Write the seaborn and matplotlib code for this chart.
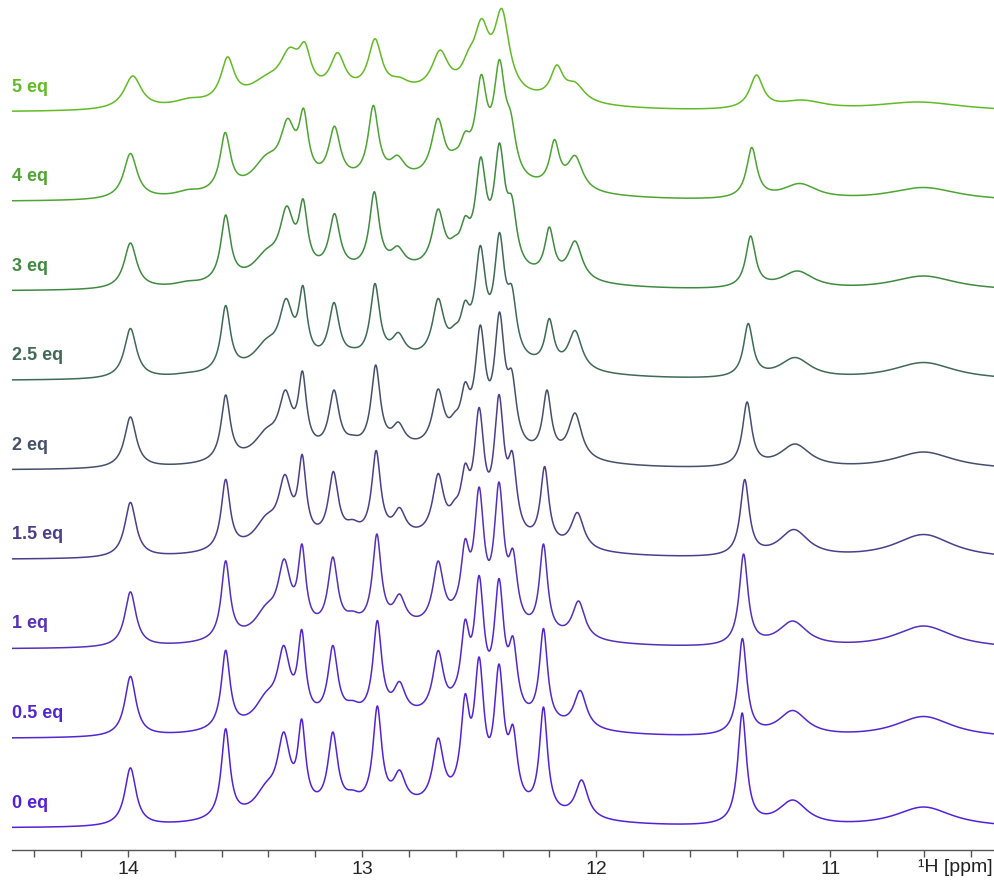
import numpy as np
import pandas as pd
import seaborn as sns
import matplotlib.pyplot as plt
from matplotlib.ticker import MultipleLocator, FixedLocator
from matplotlib.transforms import blended_transform_factory

# Titration series, bottom to top
labels = ["0 eq", "0.5 eq", "1 eq", "1.5 eq", "2 eq", "2.5 eq", "3 eq", "4 eq", "5 eq"]
colors = ["#5322d8", "#5327cf", "#5430bb", "#4a3f8c", "#45506a",
          "#3e6a56", "#3f8a40", "#4ea531", "#62bb25"]

# Resonance positions (ppm) for each spectrum, same peak order in every row
ppm_0 = [13.99, 13.75, 13.583, 13.41, 13.335, 13.258, 13.125, 13.04, 12.935, 12.84, 12.675,
         12.605, 12.56, 12.50, 12.415, 12.355, 12.225, 12.062, 11.376, 11.16, 10.60]
ppm_05 = [13.99, 13.75, 13.583, 13.41, 13.335, 13.258, 13.125, 13.04, 12.935, 12.84, 12.675,
          12.605, 12.56, 12.50, 12.415, 12.355, 12.225, 12.068, 11.375, 11.16, 10.60]
ppm_1 = [13.99, 13.75, 13.583, 13.41, 13.333, 13.257, 13.125, 13.04, 12.937, 12.84, 12.675,
         12.605, 12.56, 12.50, 12.415, 12.355, 12.225, 12.075, 11.370, 11.16, 10.60]
ppm_15 = [13.99, 13.75, 13.583, 13.41, 13.33, 13.256, 13.123, 13.04, 12.94, 12.84, 12.675,
          12.605, 12.56, 12.50, 12.415, 12.358, 12.220, 12.080, 11.365, 11.155, 10.60]
ppm_2 = [13.99, 13.75, 13.583, 13.41, 13.328, 13.255, 13.12, 13.04, 12.942, 12.845, 12.675,
         12.605, 12.56, 12.495, 12.413, 12.36, 12.210, 12.090, 11.355, 11.15, 10.60]
ppm_25 = [13.99, 13.75, 13.583, 13.41, 13.325, 13.253, 13.12, 13.04, 12.945, 12.845, 12.675,
          12.605, 12.56, 12.495, 12.413, 12.36, 12.200, 12.090, 11.350, 11.15, 10.60]
ppm_3 = [13.99, 13.75, 13.583, 13.41, 13.322, 13.252, 13.118, 13.04, 12.948, 12.848, 12.675,
         12.605, 12.56, 12.493, 12.413, 12.36, 12.200, 12.090, 11.340, 11.14, 10.60]
ppm_4 = [13.99, 13.745, 13.585, 13.41, 13.318, 13.25, 13.118, 13.04, 12.952, 12.849, 12.676,
         12.605, 12.56, 12.491, 12.413, 12.365, 12.178, 12.090, 11.335, 11.13, 10.60]
ppm_5 = [13.98, 13.74, 13.575, 13.41, 13.31, 13.245, 13.105, 13.04, 12.945, 12.84, 12.667,
         12.605, 12.545, 12.49, 12.403, 12.37, 12.168, 12.090, 11.315, 11.12, 10.62]

# Observed peak heights above the baseline of each spectrum
h_0 = [60, 4, 99, 46, 96, 109, 96, 38, 122, 58, 90, 56, 134, 171, 164, 103, 121, 48, 115, 28, 21]
h_05 = [62, 4, 88, 47, 93, 109, 93, 38, 118, 57, 88, 55, 119, 163, 160, 102, 110, 48, 100, 28, 22]
h_1 = [57, 4, 88, 45, 90, 105, 92, 38, 115, 55, 88, 52, 110, 162, 167, 100, 105, 48, 95, 28, 23]
h_15 = [57, 5, 80, 45, 85, 105, 88, 40, 109, 52, 86, 60, 96, 152, 165, 108, 93, 47, 80, 30, 25]
h_2 = [53, 6, 75, 42, 80, 99, 80, 35, 105, 48, 81, 58, 88, 145, 158, 100, 80, 57, 68, 26, 18]
h_25 = [52, 8, 75, 42, 82, 95, 78, 33, 97, 48, 82, 56, 80, 135, 148, 95, 62, 50, 57, 23, 18]
h_3 = [48, 10, 76, 42, 85, 92, 77, 30, 99, 45, 82, 55, 75, 134, 148, 95, 64, 50, 55, 20, 15]
h_4 = [48, 12, 69, 47, 83, 93, 74, 28, 95, 46, 83, 52, 70, 127, 142, 90, 62, 46, 54, 18, 14]
h_5 = [36, 14, 55, 37, 64, 69, 54, 22, 70, 34, 61, 40, 62, 93, 103, 65, 47, 30, 37, 12, 10]

# Line widths (FWHM, ppm) of each resonance
fwhm = [0.058, 0.10, 0.045, 0.12, 0.065, 0.04, 0.05, 0.07, 0.045, 0.06, 0.055,
        0.05, 0.045, 0.05, 0.05, 0.045, 0.042, 0.065, 0.045, 0.15, 0.30]
broadening = [1.0, 1.0, 1.0, 1.02, 1.05, 1.08, 1.12, 1.2, 1.55]
hump = [18, 18, 18, 18, 18, 18, 18, 18, 16]   # broad envelope under the imino region

positions = [ppm_0, ppm_05, ppm_1, ppm_15, ppm_2, ppm_25, ppm_3, ppm_4, ppm_5]
heights = [h_0, h_05, h_1, h_15, h_2, h_25, h_3, h_4, h_5]

STEP = 89.5
BASE = 22.0


def lorentz(x, x0, w):
    hw = w / 2.0
    return hw ** 2 / ((x - x0) ** 2 + hw ** 2)


def envelope(x, amp):
    return amp * np.exp(-(x - 12.8) ** 2 / (2 * 0.5 ** 2))


axis = np.linspace(14.50, 10.30, 5000)
frames = []
for i, lab in enumerate(labels):
    pos = np.asarray(positions[i])
    tgt = np.asarray(heights[i], float)
    w = np.asarray(fwhm) * broadening[i]
    # amplitudes so that the summed line shape reaches the observed maxima
    M = lorentz(pos[:, None], pos[None, :], w[None, :])
    amps = np.linalg.solve(M, tgt - envelope(pos, hump[i]))
    amps = np.clip(amps, 0, None)
    spec = envelope(axis, hump[i]) + (amps[None, :] * lorentz(axis[:, None], pos[None, :], w[None, :])).sum(1)
    frames.append(pd.DataFrame({"ppm": axis, "intensity": spec + BASE + i * STEP, "sample": lab}))
data = pd.concat(frames, ignore_index=True)

sns.set_style("white")
plt.rcParams["font.family"] = ["Liberation Sans", "DejaVu Sans"]

fig = plt.figure(figsize=(9.94, 8.83), dpi=100)
ax = fig.add_axes([12 / 994, 33 / 883, 982 / 994, 850 / 883])

sns.lineplot(data=data, x="ppm", y="intensity", hue="sample", hue_order=labels,
             palette=colors, estimator=None, sort=False, linewidth=1.1, legend=False, ax=ax)

ax.set_xlim(14.496, 10.30)
ax.set_ylim(0, 850)
for side in ("top", "left", "right"):
    ax.spines[side].set_visible(False)
ax.spines["bottom"].set_color("#555555")
ax.spines["bottom"].set_linewidth(1.0)
ax.set_yticks([])
ax.xaxis.set_major_locator(FixedLocator([14, 13, 12, 11]))
ax.xaxis.set_minor_locator(MultipleLocator(0.2))
ax.tick_params(axis="x", which="both", direction="out", length=5, width=1,
               color="#555555", labelsize=14, pad=3, bottom=True)
ax.set_xticklabels(["14", "13", "12", "11"])
ax.set_xlabel("")
ax.set_ylabel("")

for i, lab in enumerate(labels):
    ax.text(0.0, BASE + i * STEP + 25, lab, color=colors[i], fontsize=13,
            fontweight="bold", ha="left", va="center",
            transform=blended_transform_factory(ax.transAxes, ax.transData))

ax.text(0.999, -18, "¹H [ppm]", fontsize=14, ha="right", va="center", color="#222222",
        transform=blended_transform_factory(ax.transAxes, ax.transData), clip_on=False)

fig.savefig("out.png", dpi=100)
